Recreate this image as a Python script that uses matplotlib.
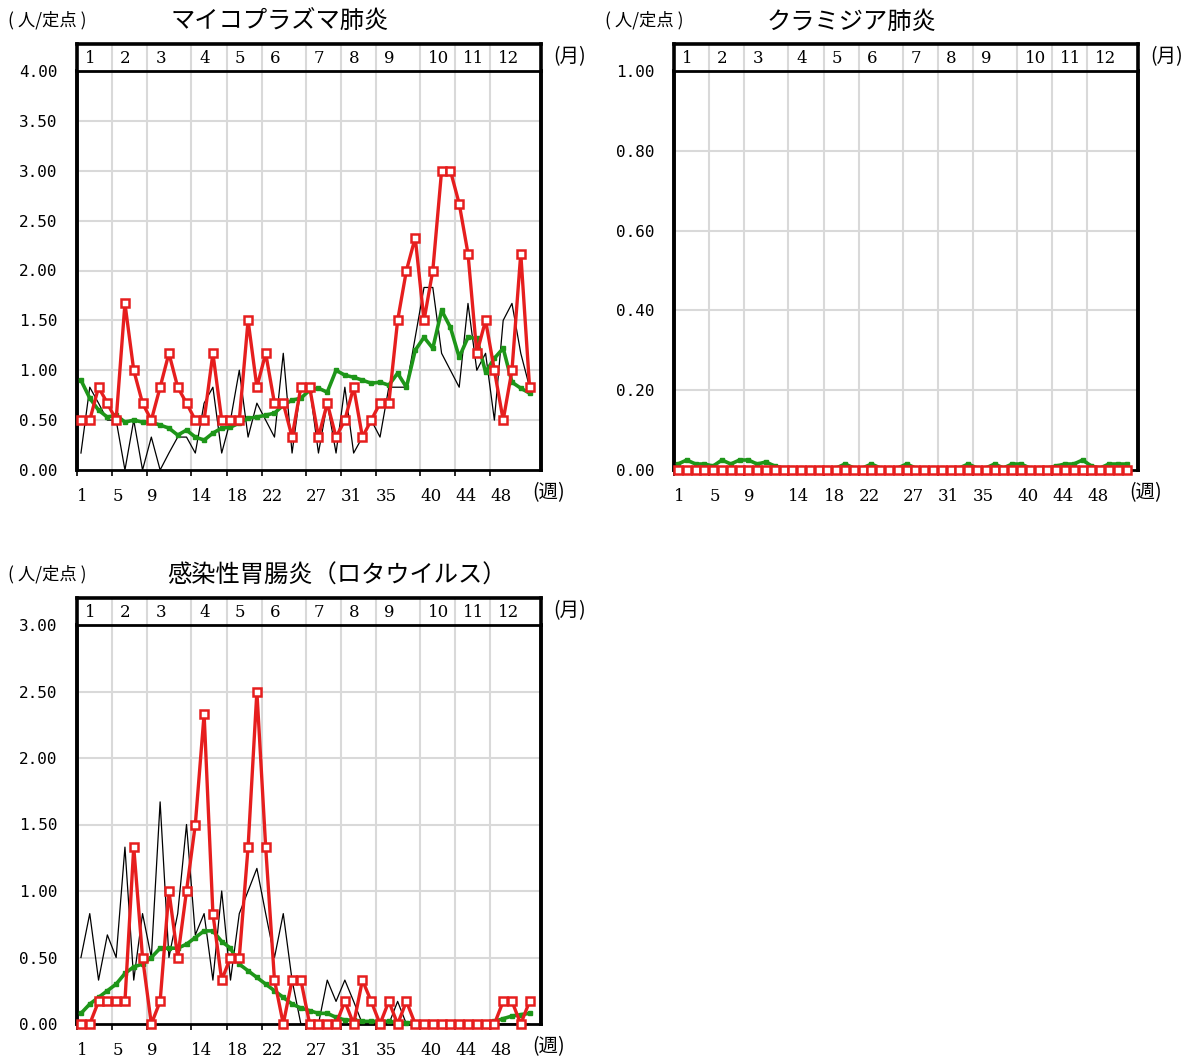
import matplotlib
matplotlib.use('Agg')
import matplotlib.pyplot as plt

plt.rcParams['font.family'] = ['Noto Sans CJK JP', 'DejaVu Sans']

# ---------------- data ----------------
weeks = list(range(1, 53))
month_labels = ['1', '2', '3', '4', '5', '6', '7', '8', '9', '10', '11', '12']
month_start_weeks = [1, 5, 9, 14, 18, 22, 27, 31, 35, 40, 44, 48]
week_tick_labels = ['1', '5', '9', '14', '18', '22', '27', '31', '35', '40', '44', '48']

titles = ['マイコプラズマ肺炎', 'クラミジア肺炎', '感染性胃腸炎（ロタウイルス）']

# Mycoplasma pneumonia
myco_red = [0.50, 0.50, 0.83, 0.67, 0.50, 1.67, 1.00, 0.67, 0.50, 0.83,
            1.17, 0.83, 0.67, 0.50, 0.50, 1.17, 0.50, 0.50, 0.50, 1.50,
            0.83, 1.17, 0.67, 0.67, 0.33, 0.83, 0.83, 0.33, 0.67, 0.33,
            0.50, 0.83, 0.33, 0.50, 0.67, 0.67, 1.50, 2.00, 2.33, 1.50,
            2.00, 3.00, 3.00, 2.67, 2.17, 1.17, 1.50, 1.00, 0.50, 1.00,
            2.17, 0.83]
myco_black = [0.17, 0.83, 0.67, 0.50, 0.50, 0.00, 0.50, 0.00, 0.33, 0.00,
              0.17, 0.33, 0.33, 0.17, 0.67, 0.83, 0.17, 0.50, 1.00, 0.33,
              0.67, 0.50, 0.33, 1.17, 0.17, 0.83, 0.83, 0.17, 0.67, 0.17,
              0.83, 0.17, 0.33, 0.50, 0.33, 0.83, 0.83, 0.83, 1.33, 1.83,
              1.83, 1.17, 1.00, 0.83, 1.67, 1.00, 1.17, 0.50, 1.50, 1.67,
              1.17, 0.83]
myco_green = [0.90, 0.72, 0.60, 0.53, 0.55, 0.48, 0.50, 0.48, 0.48, 0.45,
              0.42, 0.35, 0.40, 0.33, 0.30, 0.37, 0.42, 0.43, 0.47, 0.52,
              0.53, 0.55, 0.57, 0.65, 0.70, 0.72, 0.80, 0.82, 0.78, 1.00,
              0.95, 0.93, 0.90, 0.87, 0.88, 0.85, 0.97, 0.83, 1.20, 1.33,
              1.22, 1.60, 1.43, 1.13, 1.33, 1.32, 0.98, 1.12, 1.22, 0.88,
              0.82, 0.77]

# Chlamydia pneumonia
chla_red = [0.0, 0.0, 0.0, 0.0, 0.0, 0.0, 0.0, 0.0, 0.0, 0.0,
            0.0, 0.0, 0.0, 0.0, 0.0, 0.0, 0.0, 0.0, 0.0, 0.0,
            0.0, 0.0, 0.0, 0.0, 0.0, 0.0, 0.0, 0.0, 0.0, 0.0,
            0.0, 0.0, 0.0, 0.0, 0.0, 0.0, 0.0, 0.0, 0.0, 0.0,
            0.0, 0.0, 0.0, 0.0, 0.0, 0.0, 0.0, 0.0, 0.0, 0.0,
            0.0, 0.0]
chla_black = [0.0, 0.0, 0.0, 0.0, 0.0, 0.0, 0.0, 0.0, 0.0, 0.0,
              0.0, 0.0, 0.0, 0.0, 0.0, 0.0, 0.0, 0.0, 0.0, 0.0,
              0.0, 0.0, 0.0, 0.0, 0.0, 0.0, 0.0, 0.0, 0.0, 0.0,
              0.0, 0.0, 0.0, 0.0, 0.0, 0.0, 0.0, 0.0, 0.0, 0.0,
              0.0, 0.0, 0.0, 0.0, 0.0, 0.0, 0.0, 0.0, 0.0, 0.0,
              0.0, 0.0]
chla_green = [0.015, 0.025, 0.015, 0.015, 0.010, 0.025, 0.015, 0.025, 0.025, 0.015,
              0.020, 0.010, 0.005, 0.005, 0.005, 0.005, 0.005, 0.005, 0.005, 0.015,
              0.005, 0.005, 0.015, 0.005, 0.005, 0.005, 0.015, 0.005, 0.005, 0.005,
              0.005, 0.005, 0.005, 0.015, 0.005, 0.005, 0.015, 0.005, 0.015, 0.015,
              0.005, 0.005, 0.005, 0.010, 0.015, 0.015, 0.025, 0.010, 0.005, 0.015,
              0.015, 0.015]

# Rotavirus gastroenteritis
rota_red = [0.00, 0.00, 0.17, 0.17, 0.17, 0.17, 1.33, 0.50, 0.00, 0.17,
            1.00, 0.50, 1.00, 1.50, 2.33, 0.83, 0.33, 0.50, 0.50, 1.33,
            2.50, 1.33, 0.33, 0.00, 0.33, 0.33, 0.00, 0.00, 0.00, 0.00,
            0.17, 0.00, 0.33, 0.17, 0.00, 0.17, 0.00, 0.17, 0.00, 0.00,
            0.00, 0.00, 0.00, 0.00, 0.00, 0.00, 0.00, 0.00, 0.17, 0.17,
            0.00, 0.17]
rota_black = [0.50, 0.83, 0.33, 0.67, 0.50, 1.33, 0.33, 0.83, 0.50, 1.67,
              0.50, 0.83, 1.50, 0.67, 0.83, 0.33, 1.00, 0.33, 0.83, 1.00,
              1.17, 0.83, 0.50, 0.83, 0.33, 0.00, 0.00, 0.00, 0.33, 0.17,
              0.33, 0.17, 0.00, 0.00, 0.00, 0.00, 0.17, 0.00, 0.00, 0.00,
              0.00, 0.00, 0.00, 0.00, 0.00, 0.00, 0.00, 0.00, 0.00, 0.00,
              0.00, 0.00]
rota_green = [0.08, 0.15, 0.20, 0.25, 0.30, 0.38, 0.43, 0.45, 0.50, 0.57,
              0.57, 0.57, 0.60, 0.65, 0.70, 0.70, 0.62, 0.57, 0.45, 0.40,
              0.35, 0.30, 0.25, 0.20, 0.15, 0.12, 0.10, 0.08, 0.08, 0.05,
              0.03, 0.03, 0.02, 0.02, 0.02, 0.02, 0.01, 0.01, 0.01, 0.01,
              0.01, 0.01, 0.01, 0.01, 0.01, 0.01, 0.01, 0.02, 0.04, 0.06,
              0.07, 0.08]

# ---------------- drawing ----------------
W, H = 1199, 1057
fig = plt.figure(figsize=(W / 100, H / 100), dpi=100)

RED = '#e61e1e'
GREEN = '#1e9619'
GRID = '#d9d9d9'
OFF = 0.45  # week tick offset to the left of the data point
NUMFONT = ['DejaVu Serif']


def px_axes(x0, y0, x1, y1):
    return fig.add_axes([x0 / W, 1 - y1 / H, (x1 - x0) / W, (y1 - y0) / H])


def panel(x0, band_top, band_bot, plot_bot, ymax, ystep, title, title_x,
          red, black, green, yunit_x):
    xl = (1 - OFF, 53.3)
    ax = px_axes(x0, band_bot, x0 + 464, plot_bot)
    band = px_axes(x0, band_top, x0 + 464, band_bot)
    grid_x = [w - OFF for w in month_start_weeks]

    # month band
    band.set_xlim(*xl)
    band.set_ylim(0, 1)
    band.set_xticks([])
    band.set_yticks([])
    for gx in grid_x[1:]:
        band.axvline(gx, color=GRID, lw=1.5, zorder=0)
    for gx, lab in zip(grid_x, month_labels):
        band.text(gx + 0.9, 0.45, lab, ha='left', va='center', fontsize=12,
                  family=NUMFONT)
    for s in band.spines.values():
        s.set_linewidth(2.6)
    band.spines['bottom'].set_linewidth(2.0)

    # main plot
    ax.set_xlim(*xl)
    ax.set_ylim(0, ymax)
    nt = int(round(ymax / ystep))
    yt = [i * ystep for i in range(nt + 1)]
    ax.set_yticks(yt)
    ax.set_yticklabels(['%.2f' % v for v in yt], fontsize=11.5,
                       family=['DejaVu Sans Mono'])
    ax.tick_params(axis='y', length=0, pad=14)
    ax.set_xticks(grid_x)
    ax.set_xticklabels(week_tick_labels, ha='left', fontsize=12,
                       family=NUMFONT)
    ax.tick_params(axis='x', length=4, width=1.2, pad=9, direction='out')
    for yv in yt[1:]:
        ax.axhline(yv, color=GRID, lw=1.5, zorder=0)
    for gx in grid_x[1:]:
        ax.axvline(gx, color=GRID, lw=1.5, zorder=0)
    ax.spines['top'].set_visible(False)
    for s in ('left', 'right'):
        ax.spines[s].set_linewidth(2.8)
    ax.spines['bottom'].set_linewidth(2.0)

    ax.plot(weeks, black, color='black', lw=0.9, zorder=3, clip_on=False)
    ax.plot(weeks, green, color=GREEN, lw=2.6, marker='s', ms=3.2,
            mec=GREEN, mfc=GREEN, zorder=4, clip_on=False)
    ax.plot(weeks, red, color=RED, lw=2.4, marker='s', ms=5.2, mew=1.8,
            mec=RED, mfc='white', zorder=5, clip_on=False)

    # texts
    ty = band_top - 24
    fig.text(yunit_x / W, 1 - ty / H, '( 人/定点 )', fontsize=12.5,
             ha='left', va='center')
    fig.text(title_x / W, 1 - (ty + 2) / H, title, fontsize=17.5,
             ha='center', va='center')
    fig.text((x0 + 476) / W, 1 - (band_top + 13) / H, '(月)', fontsize=14,
             ha='left', va='center')
    fig.text((x0 + 455) / W, 1 - (plot_bot + 23) / H, '(週)', fontsize=14,
             ha='left', va='center')


panel(77, 44, 71, 470, 4.0, 0.5, titles[0], 280,
      myco_red, myco_black, myco_green, 8)
panel(674, 44, 71, 470, 1.0, 0.2, titles[1], 851,
      chla_red, chla_black, chla_green, 605)
panel(77, 598, 625, 1024, 3.0, 0.5, titles[2], 337,
      rota_red, rota_black, rota_green, 8)

fig.savefig('out.png', dpi=100)
